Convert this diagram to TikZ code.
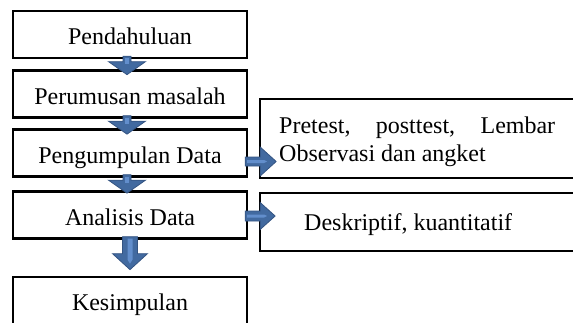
\documentclass[tikz,border=0pt]{standalone}
\usepackage{fontspec}
\setmainfont{Liberation Serif}
\usetikzlibrary{calc}
\definecolor{arrfill}{RGB}{66,106,160}
\definecolor{arrline}{RGB}{52,84,130}
\definecolor{arrlight}{RGB}{98,142,204}
\begin{document}
\begin{tikzpicture}[x=1pt,y=-1pt,
  box/.style={draw=black, line width=2.3pt, inner sep=0pt, minimum width=234pt, minimum height=47pt,
    font=\fontsize{24}{28}\selectfont, text height=21pt, text depth=1pt},
  rbox/.style={draw=black, line width=2.3pt, inner sep=0pt},
  blockarr/.style={fill=arrfill, draw=arrline, line width=0.8pt, line join=miter},
  hilite/.style={fill=arrlight},
  txt/.style={font=\fontsize{24}{28}\selectfont, inner sep=0pt, anchor=base west}]
\clip (0,0) rectangle (573,322);
% left boxes
\node[box] (b1) at (130,34.5) {Pendahuluan};
\node[box] (b2) at (130,94) {Perumusan masalah};
\node[box] (b3) at (130,153) {Pengumpulan Data};
\node[box] (b4) at (130,215) {Analisis Data};
\node[box] (b5) at (130,300.5) {Kesimpulan};
% right boxes
\node[rbox, minimum width=360pt, minimum height=79pt, anchor=north west] (rA) at (259,98) {};
\node[rbox, minimum width=360pt, minimum height=58pt, anchor=north west] (rB) at (259,192) {};
\node[txt] (tA1) at (279,133) {\makebox[276pt][s]{Pretest, posttest, Lembar}};
\node[txt] (tA2) at (279,161) {Observasi dan angket};
\node[txt] (tB) at (304,230.5) {Deskriptif, kuantitatif};
% small down arrows
\foreach \a in {b1,b2,b3}{
  \begin{scope}[shift={($(\a.south)+(-3,0)$)}]
    \path[blockarr] (-4,-3) -- (4,-3) -- (4,2.5) -- (18.5,2.5) -- (0,15.5) -- (-18.5,2.5) -- (-4,2.5) -- cycle;
    \path[hilite] (-2,-1) rectangle (2,5);
  \end{scope}
}
% big down arrow
\begin{scope}[shift={(b4.south)}]
  \path[blockarr] (-7.5,-3) -- (7.5,-3) -- (7.5,14) -- (17.5,14) -- (0,30) -- (-17.5,14) -- (-7.5,14) -- cycle;
  \path[hilite] (-2.5,-1) -- (2.5,-1) -- (2.5,20) -- (0,24) -- (-2.5,20) -- cycle;
\end{scope}
% right arrows
\begin{scope}[shift={($(b3.east)+(0,8.5)$)}]
  \path[blockarr] (-3,-4.5) -- (12,-4.5) -- (12,-14.5) -- (28,0) -- (12,14.5) -- (12,4.5) -- (-3,4.5) -- cycle;
  \path[hilite] (-1,-1.5) -- (16,-1.5) -- (19,0) -- (16,1.5) -- (-1,1.5) -- cycle;
\end{scope}
\begin{scope}[shift={($(b4.east)+(0,1)$)}]
  \path[blockarr] (-3,-5) -- (12,-5) -- (12,-13.5) -- (27,0) -- (12,13.5) -- (12,5) -- (-3,5) -- cycle;
  \path[hilite] (-1,-1.5) -- (16,-1.5) -- (19,0) -- (16,1.5) -- (-1,1.5) -- cycle;
\end{scope}
\end{tikzpicture}
\end{document}
